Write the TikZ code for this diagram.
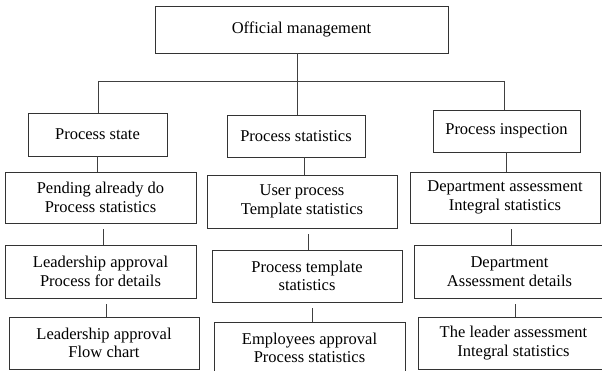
\documentclass[tikz,border=0pt]{standalone}
\usepackage{fontspec}
\setmainfont{Liberation Serif}

\begin{document}
\begin{tikzpicture}[x=1pt, y=-1pt,
  orgbox/.style={draw=black!80, line width=0.9pt, fill=white, inner sep=0pt, align=center, font=\fontsize{16.5}{18.5}\selectfont},
  link/.style={draw=black!75, line width=0.9pt},
  sublink/.style={link, shorten <=6pt}
]
\useasboundingbox (0,0) rectangle (602,371);

% Root
\node[orgbox, minimum width=293pt, minimum height=47pt] (root) at (301.5,29.5) {Official management};

% First level
\node[orgbox, minimum width=139pt, minimum height=43pt] (state) at (97.5,134.5) {Process state};
\node[orgbox, minimum width=138pt, minimum height=42pt] (stats) at (296,136) {Process statistics};
\node[orgbox, minimum width=147pt, minimum height=42pt] (insp) at (506.5,131) {Process inspection};

% Bus from the root
\coordinate (busL) at (98,81);
\coordinate (busM) at (297,81);
\coordinate (busR) at (504,81);
\draw[link] (busM |- root.south) -- (busM);
\draw[link] (busL) -- (busR);
\draw[link] (busL) -- (busL |- state.north);
\draw[link] (busM) -- (busM |- stats.north);
\draw[link] (busR) -- (busR |- insp.north);

% Process state column
\node[orgbox, minimum width=191pt, minimum height=51pt] (pend) at (100.5,197.5) {Pending already do\\Process statistics};
\node[orgbox, minimum width=191pt, minimum height=53pt] (leadA) at (100.5,271.5) {Leadership approval\\Process for details};
\node[orgbox, minimum width=190pt, minimum height=52pt] (leadF) at (104,343) {Leadership approval\\Flow chart};

% Process statistics column
\node[orgbox, minimum width=190pt, minimum height=53pt] (user) at (302,201.5) {User process\\Template statistics};
\node[orgbox, minimum width=190pt, minimum height=52pt] (tmpl) at (307,276) {Process template\\statistics};
\node[orgbox, minimum width=191pt, minimum height=52pt] (empl) at (309.5,348) {Employees approval\\Process statistics};

% Process inspection column
\node[orgbox, minimum width=190pt, minimum height=51pt] (dept) at (505,197.5) {Department assessment\\Integral statistics};
\node[orgbox, minimum width=191pt, minimum height=53pt] (detl) at (509.5,271.5) {Department\\Assessment details};
\node[orgbox, minimum width=191pt, minimum height=52pt] (lscr) at (513.5,343) {The leader assessment\\Integral statistics};

% Column links
\draw[link] (state.south) -- (state.south |- pend.north);
\draw[link] ([xshift=8pt]stats.south) -- ([xshift=8pt]stats.south |- user.north);
\draw[link] (insp.south) -- (insp.south |- dept.north);
\draw[sublink] ([xshift=2.5pt]pend.south) -- ([xshift=2.5pt]pend.south |- leadA.north);
\draw[sublink] ([xshift=6pt]user.south) -- ([xshift=6pt]user.south |- tmpl.north);
\draw[sublink] ([xshift=6pt]dept.south) -- ([xshift=6pt]dept.south |- detl.north);
\draw[sublink] ([xshift=5.5pt]leadA.south) -- ([xshift=5.5pt]leadA.south |- leadF.north);
\draw[sublink] ([xshift=5pt]tmpl.south) -- ([xshift=5pt]tmpl.south |- empl.north);
\draw[sublink] ([xshift=5.5pt]detl.south) -- ([xshift=5.5pt]detl.south |- lscr.north);
\end{tikzpicture}
\end{document}
